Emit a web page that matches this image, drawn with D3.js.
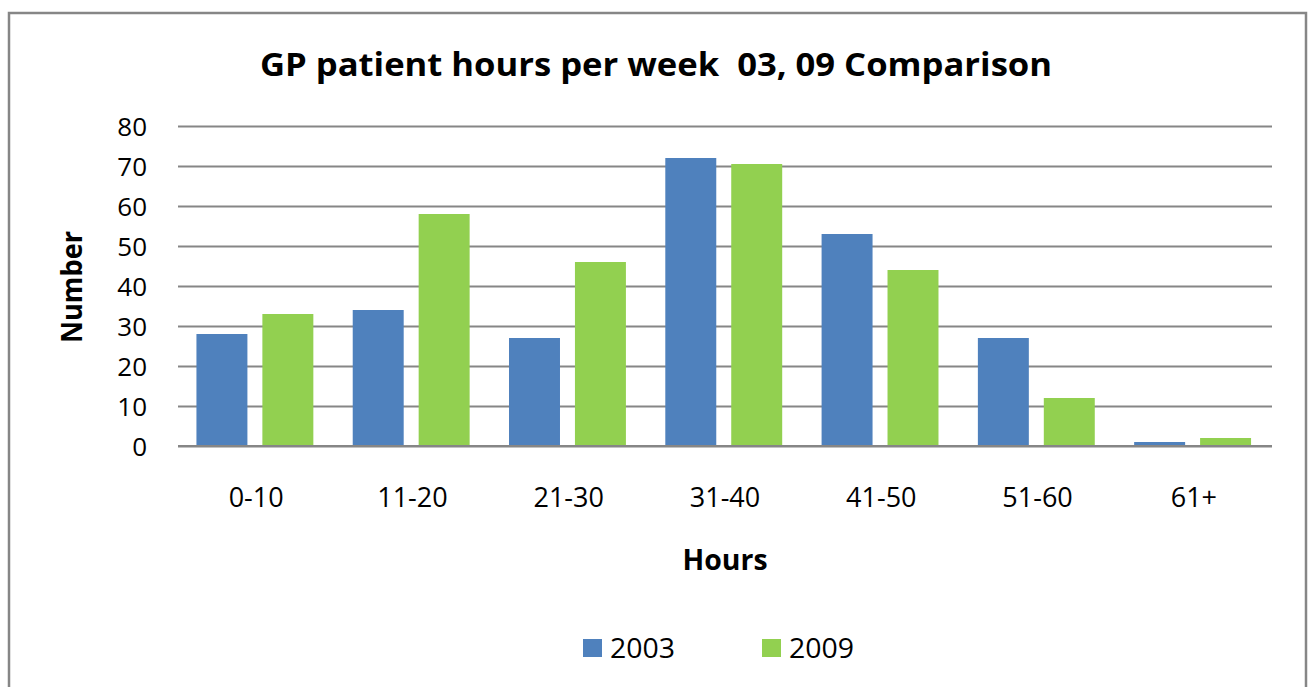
<!DOCTYPE html>
<html>
<head>
<meta charset="utf-8">
<script src="https://cdn.jsdelivr.net/npm/d3@7"></script>
<style>
  html, body { margin: 0; padding: 0; background: #fff; }
  svg { display: block; }
  text { font-family: "Open Sans", "DejaVu Sans", sans-serif; fill: #000; }
</style>
</head>
<body>
<script>
const categories = ["0-10", "11-20", "21-30", "31-40", "41-50", "51-60", "61+"];
const seriesNames = ["2003", "2009"];
const values2003 = [28, 34, 27, 72, 53, 27, 1];
const values2009 = [33, 58, 46, 70.5, 44, 12, 2];
const yTicks = [0, 10, 20, 30, 40, 50, 60, 70, 80];
const colors = ["#4F81BD", "#92D050"];
const titleText = "GP patient hours per week  03, 09 Comparison";
const xTitle = "Hours";
const yTitle = "Number";

const W = 1311, H = 687;
const svg = d3.select("body").append("svg").attr("width", W).attr("height", H);

// outer frame
svg.append("rect").attr("x", 9).attr("y", 13).attr("width", 1297).attr("height", 700)
  .attr("fill", "#fff").attr("stroke", "#868686").attr("stroke-width", 2.5);

const plot = { left: 178, right: 1272, top: 126, bottom: 446 };

const x0 = d3.scaleBand().domain(categories).range([plot.left, plot.right]).paddingInner(0).paddingOuter(0);
const bw = x0.bandwidth();
const x1 = d3.scaleBand().domain(seriesNames)
  .range([bw * 0.118, bw * 0.866]).paddingInner(0.227).paddingOuter(0);
const y = d3.scaleLinear().domain([0, 80]).range([plot.bottom, plot.top]);

// gridlines
const yAxis = d3.axisLeft(y).tickValues(yTicks).tickSize(-(plot.right - plot.left)).tickFormat(d3.format("d")).tickPadding(31);
const gy = svg.append("g").attr("transform", `translate(${plot.left},0)`).call(yAxis);
gy.select(".domain").remove();
gy.selectAll(".tick line").attr("stroke", "#868686").attr("stroke-width", 2);
gy.selectAll(".tick text").attr("font-size", 26).attr("fill", "#000").attr("dy", "0.36em")
  .style("font-family", "'Open Sans', sans-serif");

// bars
const data = categories.map((c, i) => ({ cat: c, vals: [values2003[i], values2009[i]] }));
const groups = svg.append("g").selectAll("g").data(data).join("g")
  .attr("transform", d => `translate(${x0(d.cat)},0)`);
groups.selectAll("rect").data(d => d.vals.map((v, j) => ({ s: seriesNames[j], v, j })))
  .join("rect")
  .attr("x", d => x1(d.s))
  .attr("width", x1.bandwidth())
  .attr("y", d => y(d.v))
  .attr("height", d => y(0) - y(d.v))
  .attr("fill", d => colors[d.j]);

// x axis line redraw on top
svg.append("line").attr("x1", plot.left).attr("x2", plot.right).attr("y1", y(0)).attr("y2", y(0))
  .attr("stroke", "#868686").attr("stroke-width", 2);

// x axis labels
const xAxis = d3.axisBottom(x0).tickSize(0).tickPadding(0);
const gx = svg.append("g").attr("transform", `translate(0,${plot.bottom})`).call(xAxis);
gx.select(".domain").remove();
gx.selectAll(".tick text").attr("font-size", 27).attr("fill", "#000").attr("y", 61).attr("dy", 0)
  .style("font-family", "'Open Sans', sans-serif");

// title
svg.append("text").attr("x", 656).attr("y", 76).attr("text-anchor", "middle")
  .attr("font-size", 33).attr("font-weight", "bold")
  .attr("xml:space", "preserve").style("white-space", "pre")
  .attr("textLength", 792).attr("lengthAdjust", "spacingAndGlyphs")
  .text(titleText);

// axis titles
svg.append("text").attr("x", 725).attr("y", 570).attr("text-anchor", "middle")
  .attr("font-size", 28).attr("font-weight", "bold")
  .attr("textLength", 85).attr("lengthAdjust", "spacingAndGlyphs")
  .text(xTitle);
svg.append("text").attr("transform", "translate(82,287) rotate(-90)").attr("text-anchor", "middle")
  .attr("font-size", 28).attr("font-weight", "bold")
  .attr("textLength", 112).attr("lengthAdjust", "spacingAndGlyphs")
  .text(yTitle);

// legend
const legendX = [583, 762];
const leg = svg.append("g").selectAll("g").data(seriesNames).join("g")
  .attr("transform", (d, i) => `translate(${legendX[i]},639)`);
leg.append("rect").attr("width", 19).attr("height", 18).attr("fill", (d, i) => colors[i]);
leg.append("text").attr("x", 27).attr("y", 19).attr("font-size", 27)
  .attr("textLength", 65).attr("lengthAdjust", "spacingAndGlyphs").text(d => d);
</script>
</body>
</html>
